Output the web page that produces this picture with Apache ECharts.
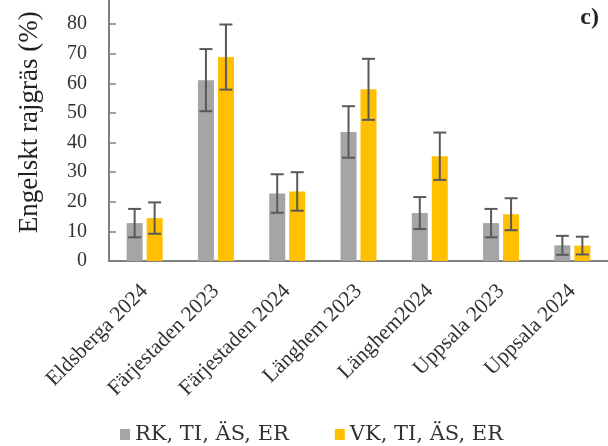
<!DOCTYPE html>
<html>
<head>
<meta charset="utf-8">
<script src="https://cdn.jsdelivr.net/npm/echarts@6/dist/echarts.min.js"></script>
<style>
  html, body { margin: 0; padding: 0; background: #ffffff; overflow: hidden; }
  /* The plot runs a little past the top edge of the page */
  #chart { position: absolute; left: 0; top: -30px; width: 608px; height: 476px; }
</style>
</head>
<body>
<div id="chart"></div>
<script>
// Sites and years
const categories = ['Eldsberga 2024', 'Färjestaden 2023', 'Färjestaden 2024', 'Länghem 2023', 'Länghem2024', 'Uppsala 2023', 'Uppsala 2024'];

// Series names
const seriesNames = ['RK, TI, ÄS, ER', 'VK, TI, ÄS, ER'];

// Mean share of perennial ryegrass (%)
const rkMeans = [12.8, 61.1, 22.8, 43.6, 16.2, 12.8, 5.3];
const vkMeans = [14.5, 68.9, 23.5, 58.0, 35.4, 15.8, 5.2];

// Half-width of the error bars (%)
const rkErr = [4.8, 10.5, 6.5, 8.7, 5.4, 4.8, 3.2];
const vkErr = [5.3, 11.0, 6.5, 10.3, 8.0, 5.4, 3.0];

// Y axis ticks
const yMin = 0, yMax = 90, yStep = 10;

const colors = ['#a5a5a5', '#ffc000'];
const errColor = '#595959';
const BAR_W = 16;
const BAR_GAP_PX = 4;
const serif = '"Liberation Serif", "DejaVu Serif", serif';
const wideSerif = '"DejaVu Serif", serif';

function errData(means, errs) {
  return means.map((m, i) => [i, m - errs[i], m + errs[i]]);
}

function errSeries(means, errs, shift) {
  return {
    type: 'custom',
    silent: true,
    z: 5,
    data: errData(means, errs),
    encode: { x: 0, y: [1, 2] },
    renderItem: function (params, api) {
      const off = shift * (BAR_W + BAR_GAP_PX) / 2;
      const lo = api.coord([api.value(0), api.value(1)]);
      const hi = api.coord([api.value(0), api.value(2)]);
      const x = lo[0] + off;
      const cap = 6.5;
      const style = { stroke: errColor, lineWidth: 2, fill: null };
      return {
        type: 'group',
        children: [
          { type: 'line', shape: { x1: x, y1: lo[1], x2: x, y2: hi[1] }, style: style },
          { type: 'line', shape: { x1: x - cap, y1: lo[1], x2: x + cap, y2: lo[1] }, style: style },
          { type: 'line', shape: { x1: x - cap, y1: hi[1], x2: x + cap, y2: hi[1] }, style: style }
        ]
      };
    }
  };
}

const chart = echarts.init(document.getElementById('chart'), null, { renderer: 'canvas' });

chart.setOption({
  animation: false,
  backgroundColor: '#ffffff',
  grid: { left: 109, right: -3, top: 24.6, bottom: 185, containLabel: false },
  graphic: [{
    type: 'text',
    right: 9,
    top: 36,
    style: { text: 'c)', font: 'bold 24px ' + serif, fill: '#222' }
  }],
  legend: {
    left: 115,
    top: 449,
    itemWidth: 10,
    itemHeight: 11,
    itemGap: 46,
    icon: 'rect',
    data: seriesNames,
    textStyle: { fontFamily: wideSerif, fontSize: 21, color: '#333' }
  },
  xAxis: {
    type: 'category',
    data: categories,
    axisLine: { lineStyle: { color: '#808080', width: 2 } },
    axisTick: { show: false },
    axisLabel: {
      rotate: 45,
      margin: 27,
      interval: 0,
      verticalAlign: 'middle',
      fontFamily: serif,
      fontSize: 21.5,
      color: '#333'
    }
  },
  yAxis: {
    type: 'value',
    min: yMin,
    max: yMax,
    interval: yStep,
    name: 'Engelskt rajgräs (%)',
    nameLocation: 'middle',
    nameGap: 66,
    nameTextStyle: { fontFamily: serif, fontSize: 27, color: '#222', padding: [0, 0, 0, 11] },
    axisLine: { show: true, lineStyle: { color: '#808080', width: 2 } },
    axisTick: { show: true, inside: true, length: 7, lineStyle: { color: '#808080', width: 1.5 } },
    splitLine: { show: false },
    axisLabel: { margin: 22, fontFamily: serif, fontSize: 20, color: '#333' }
  },
  series: [
    {
      name: seriesNames[0],
      type: 'bar',
      data: rkMeans,
      barWidth: BAR_W,
      barGap: (BAR_GAP_PX / BAR_W * 100) + '%',
      itemStyle: { color: colors[0] }
    },
    {
      name: seriesNames[1],
      type: 'bar',
      data: vkMeans,
      barWidth: BAR_W,
      itemStyle: { color: colors[1] }
    },
    errSeries(rkMeans, rkErr, -1),
    errSeries(vkMeans, vkErr, 1)
  ]
});
</script>
</body>
</html>
